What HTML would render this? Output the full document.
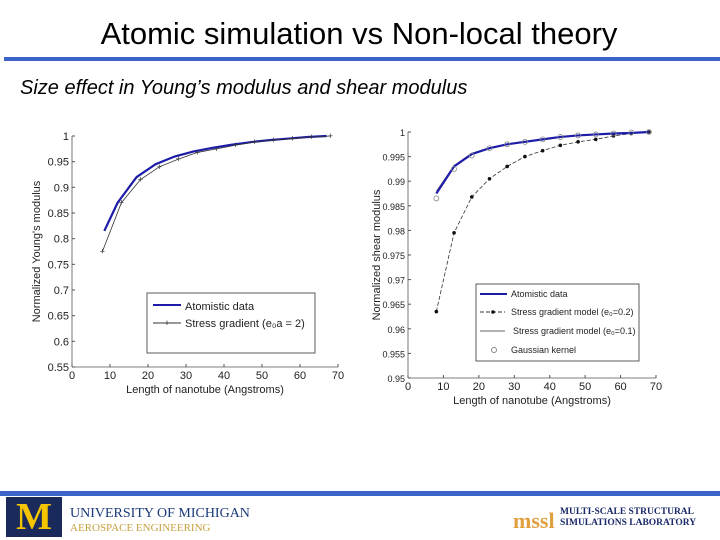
<!DOCTYPE html>
<html><head><meta charset="utf-8"><style>
body{margin:0;width:720px;height:540px;background:#fff;position:relative;overflow:hidden;font-family:"Liberation Sans",sans-serif}
.t{position:absolute;white-space:nowrap}
</style></head><body>
<div class="t" style="left:0;width:720px;top:16px;text-align:center;font-size:31px;color:#000;transform:translateX(-1px)">Atomic simulation vs Non-local theory</div>
<div style="position:absolute;left:4px;right:0;top:57px;height:4px;background:#3c64c8"></div>
<div class="t" style="left:20px;top:77px;font-size:20px;font-style:italic">Size effect in Young’s modulus and shear modulus</div>
<svg id="c" width="720" height="540" style="position:absolute;left:0;top:0"></svg>
<div style="position:absolute;left:0;right:0;top:491px;height:5px;background:#3c64c8"></div>
<div class="t" style="left:6px;top:497px;width:56px;height:40px;background:#1a2a5a;color:#f5c400;font:bold 38px 'Liberation Serif',serif;text-align:center;line-height:40px">M</div>
<div class="t" style="left:70px;top:506px;font:14px 'Liberation Serif',serif;color:#1a3a7a">UNIVERSITY OF MICHIGAN</div>
<div class="t" style="left:70px;top:522px;font:11px 'Liberation Serif',serif;color:#c8a040">AEROSPACE ENGINEERING</div>
<div class="t" style="left:513px;top:508px;font:bold 22px 'Liberation Serif',serif;color:#e0a040">mssl</div>
<div class="t" style="left:560px;top:507px;font:bold 9.5px/11px 'Liberation Serif',serif;color:#1a2a6a">MULTI-SCALE STRUCTURAL<br>SIMULATIONS LABORATORY</div>
<script>
const lx=[8.5,12,17,22,27,32,37,42,47,52,57,62,67];
const lAtom=[0.815,0.87,0.92,0.945,0.96,0.97,0.977,0.983,0.988,0.992,0.995,0.998,1.0];
const sx=[8,13,18,23,28,33,38,43,48,53,58,63,68];
const lSG=[0.775,0.87,0.915,0.94,0.955,0.968,0.975,0.982,0.988,0.992,0.995,0.998,1.0];
const rAtom=[0.9875,0.993,0.9955,0.9967,0.9975,0.998,0.9985,0.999,0.9993,0.9995,0.9997,0.9998,1.0];
const rSG2=[0.9635,0.9795,0.9868,0.9905,0.993,0.995,0.9962,0.9973,0.998,0.9985,0.9992,0.9997,1.0];
const rSG1=[0.988,0.9932,0.9957,0.9968,0.9976,0.9981,0.9986,0.999,0.9993,0.9995,0.9997,0.9999,1.0];
const rGau=[0.9865,0.9925,0.9952,0.9967,0.9975,0.998,0.9985,0.999,0.9993,0.9995,0.9997,0.9999,1.0];
const xTicks=[0,10,20,30,40,50,60,70];
const lYTicks=[0.55,0.6,0.65,0.7,0.75,0.8,0.85,0.9,0.95,1];
const rYTicks=[0.95,0.955,0.96,0.965,0.97,0.975,0.98,0.985,0.99,0.995,1];
const svg=document.getElementById('c');const NS='http://www.w3.org/2000/svg';
function mk(t,a,p){const e=document.createElementNS(NS,t);for(const k in a)e.setAttribute(k,a[k]);(p||svg).appendChild(e);return e;}
function txt(x,y,s,size,anchor,name,rot){const e=mk('text',{x:x,y:y,'font-size':size,'text-anchor':anchor||'middle','font-family':'Liberation Sans,sans-serif',fill:'#222'});if(rot)e.setAttribute('transform','rotate(-90 '+x+' '+y+')');e.textContent=s;


return e;}
function axes(x0,x1,y0,y1,ymin,ymax,yt,pre,ylab){
 const X=v=>x0+(v-0)/70*(x1-x0),Y=v=>y1-(v-ymin)/(ymax-ymin)*(y1-y0);
 mk('line',{x1:x0,y1:y1,x2:x1,y2:y1,stroke:'#555','stroke-width':0.8});
 mk('line',{x1:x0,y1:y0,x2:x0,y2:y1,stroke:'#555','stroke-width':0.8});
 xTicks.forEach(t=>{mk('line',{x1:X(t),y1:y1,x2:X(t),y2:y1-3,stroke:'#555'});txt(X(t),y1+12,String(t),11,'middle',pre+'x-tick');});
 yt.forEach(t=>{mk('line',{x1:x0,y1:Y(t),x2:x0+3,y2:Y(t),stroke:'#555'});txt(x0-3,Y(t)+4,String(t),pre==='r-'?9:11,'end',pre+'y-tick');});
 txt((x0+x1)/2,y1+26,'Length of nanotube (Angstroms)',11,'middle',pre+'x-axis-title');
 txt(x0-(pre==='r-'?28:32),(y0+y1)/2,ylab,11,'middle',pre+'y-axis-title',true);
 return [X,Y];}
function line(xs,ys,X,Y,st,name){const p=mk('polyline',Object.assign({points:xs.map((x,i)=>X(x)+','+Y(ys[i])).join(' '),fill:'none'},st));

}
let [X,Y]=axes(72,338,136,367,0.55,1,lYTicks,'l-',"Normalized Young's modulus");
line(lx,lAtom,X,Y,{stroke:'#1c1ca8','stroke-width':2.2},'atomistic-line');
line(sx,lSG,X,Y,{stroke:'#333','stroke-width':0.8},'stress-gradient-line');
sx.forEach((x,i)=>{const m=mk('text',{x:X(x),y:Y(lSG[i])+3,'font-size':9,'text-anchor':'middle',fill:'#333'});m.textContent='+';

});
mk('rect',{x:147,y:293,width:168,height:60,fill:'#fff',stroke:'#333','stroke-width':0.8});
mk('line',{x1:153,y1:305,x2:181,y2:305,stroke:'#1c1ca8','stroke-width':2});
txt(185,310,'Atomistic data',11,'start','legend-atomistic');
mk('line',{x1:153,y1:323,x2:181,y2:323,stroke:'#333'});txt(167,326,'+',9,'middle','legend-marker');
txt(185,327,'Stress gradient (e₀a = 2)',11,'start','legend-stress-gradient');
[X,Y]=axes(408,656,132,378,0.95,1,rYTicks,'r-','Normalized shear modulus');
line(sx,rSG2,X,Y,{stroke:'#333','stroke-width':0.8,'stroke-dasharray':'4,2'},'sg02-line');
sx.forEach((x,i)=>{const c=mk('circle',{cx:X(x),cy:Y(rSG2[i]),r:1.8,fill:'#111'});

});
line(sx,rSG1,X,Y,{stroke:'#666','stroke-width':0.7},'sg01-line');
line(sx,rAtom,X,Y,{stroke:'#1c1ca8','stroke-width':2.2},'atomistic-shear-line');
sx.forEach((x,i)=>{const c=mk('circle',{cx:X(x),cy:Y(rGau[i]),r:2.5,fill:'none',stroke:'#888','stroke-width':0.8});

});
mk('rect',{x:476,y:284,width:163,height:77,fill:'#fff',stroke:'#333','stroke-width':0.8});
mk('line',{x1:480,y1:294,x2:507,y2:294,stroke:'#1c1ca8','stroke-width':2});txt(511,297,'Atomistic data',9,'start','legend-atomistic-shear');
mk('line',{x1:480,y1:312,x2:505,y2:312,stroke:'#333','stroke-dasharray':'4,2'});mk('circle',{cx:493,cy:312,r:1.8,fill:'#111'});txt(511,315,'Stress gradient model (e₀=0.2)',9,'start','legend-sg02');
mk('line',{x1:480,y1:331,x2:505,y2:331,stroke:'#666'});txt(513,334,'Stress gradient model (e₀=0.1)',9,'start','legend-sg01');
mk('circle',{cx:494,cy:350,r:2.5,fill:'none',stroke:'#888'});txt(511,353,'Gaussian kernel',9,'start','legend-gaussian');
</script>
</body></html>
